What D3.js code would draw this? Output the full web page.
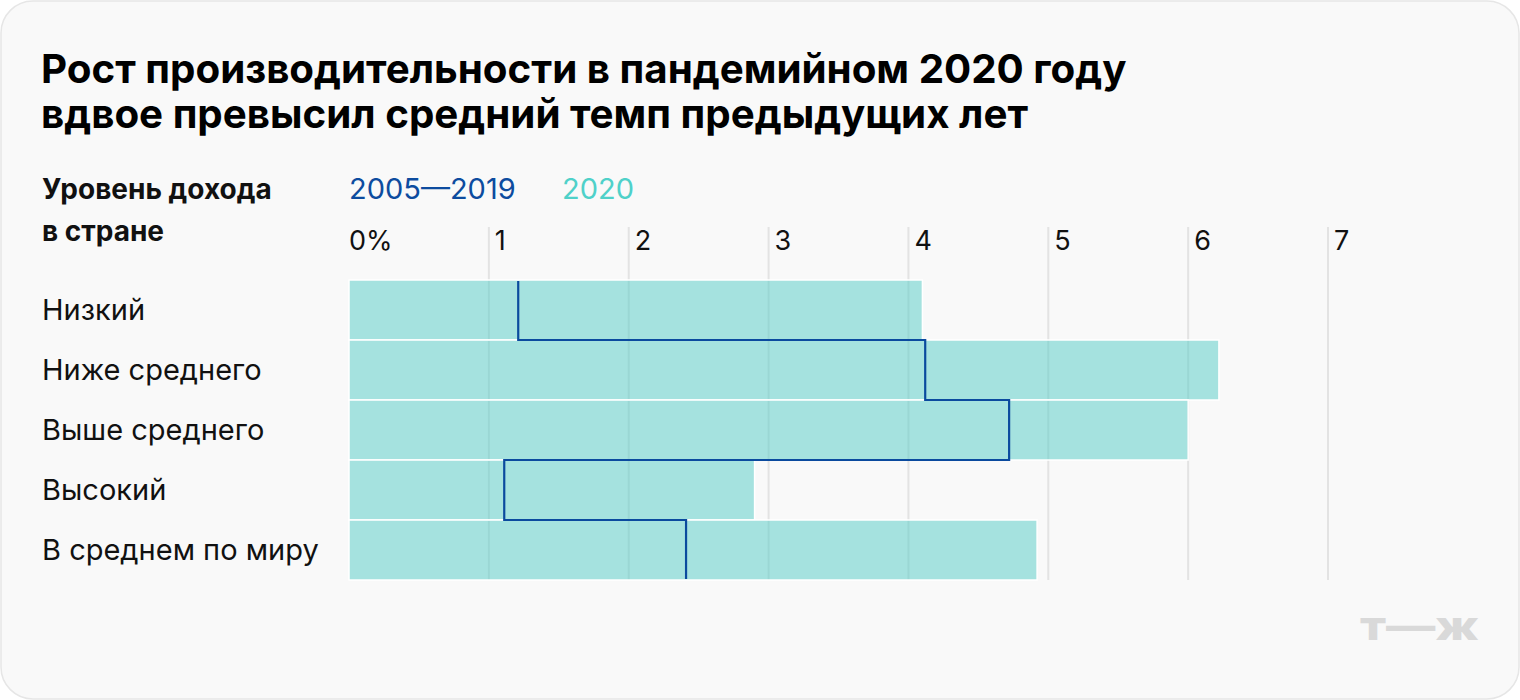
<!DOCTYPE html>
<html><head><meta charset="utf-8">
<script src="https://cdn.jsdelivr.net/npm/d3@7"></script>
<style>
html,body{margin:0;padding:0;background:#fff;}
svg{display:block;font-family:Inter,"Noto Sans",sans-serif;}
</style></head>
<body>
<svg id="c" width="1520" height="700"></svg>
<script>
const categories = ["Низкий","Ниже среднего","Выше среднего","Высокий","В среднем по миру"];
const values2020 = [4.10, 6.22, 6.00, 2.90, 4.92];
const values2005_2019 = [1.21, 4.12, 4.72, 1.11, 2.41];
const tickValues = [0,1,2,3,4,5,6,7];
const tickLabels = ["0%","1","2","3","4","5","6","7"];
const titleLines = ["Рост производительности в пандемийном 2020 году","вдвое превысил средний темп предыдущих лет"];
const legendLabels = ["2005—2019","2020"];
const axisTitle = ["Уровень дохода","в стране"];

const svg = d3.select("#c");
svg.append("rect").attr("x",1).attr("y",1).attr("width",1518).attr("height",698)
  .attr("rx",32).attr("fill","#f9f9f9").attr("stroke","#e6e6e6").attr("stroke-width",1.5);

const x = d3.scaleLinear().domain([0,7]).range([349,1328]);
const y = d3.scaleBand().domain(categories).range([280,580]).padding(0);

// title
svg.append("g").selectAll("text").data(titleLines).join("text")
  .attr("x",41).attr("y",(d,i)=>83+i*45)
  .attr("font-size",40.3).attr("font-weight",700).attr("fill","#000")
  .text(d=>d);

// axis title
svg.append("g").selectAll("text").data(axisTitle).join("text")
  .attr("x",42).attr("y",(d,i)=>199+i*42)
  .attr("font-size",28).attr("font-weight",700).attr("fill","#111")
  .text(d=>d);

// legend
const legendColors = ["#0d4c9f","#4fd1c9"];
const legendX = [349,562];
svg.append("g").selectAll("text").data(legendLabels).join("text")
  .attr("x",(d,i)=>legendX[i]).attr("y",199)
  .attr("font-size",29).attr("fill",(d,i)=>legendColors[i])
  .text(d=>d);

// gridlines
svg.append("g").selectAll("line").data(tickValues.filter(d=>d>0)).join("line")
  .attr("x1",d=>x(d)).attr("x2",d=>x(d)).attr("y1",227).attr("y2",580)
  .attr("stroke","#e3e3e3").attr("stroke-width",2);

// tick labels
svg.append("g").selectAll("text").data(tickValues).join("text")
  .attr("x",d=>d===0?x(d):x(d)+6).attr("y",250)
  .attr("font-size",27).attr("fill","#111")
  .text((d,i)=>tickLabels[i]);

// bars
svg.append("g").selectAll("rect").data(categories).join("rect")
  .attr("x",x(0)).attr("y",d=>y(d))
  .attr("width",(d,i)=>x(values2020[i])-x(0)).attr("height",y.bandwidth())
  .attr("fill","#51cbc5").attr("fill-opacity",0.5)
  .attr("stroke","#ffffff").attr("stroke-width",1.5);

// step line
const pts = [];
values2005_2019.forEach((v,i)=>{
  pts.push([v, y(categories[i]) + (i===0?1:0)]);
  pts.push([v, y(categories[i]) + y.bandwidth() - (i===categories.length-1?1:0)]);
});
svg.append("path").datum(pts)
  .attr("d",d3.line().x(d=>x(d[0])).y(d=>d[1]))
  .attr("fill","none").attr("stroke","#0a4a9e").attr("stroke-width",2.2);

// row labels
svg.append("g").selectAll("text").data(categories).join("text")
  .attr("x",42).attr("y",d=>y(d)+y.bandwidth()/2+10)
  .attr("font-size",29).attr("fill","#111")
  .text(d=>d);

// logo
svg.append("text").attr("x",1360).attr("y",640)
  .attr("font-size",40).attr("font-weight",800).attr("fill","#d9d9d9")
  .attr("textLength",119).attr("lengthAdjust","spacingAndGlyphs")
  .text("т—ж");
</script>
</body></html>
